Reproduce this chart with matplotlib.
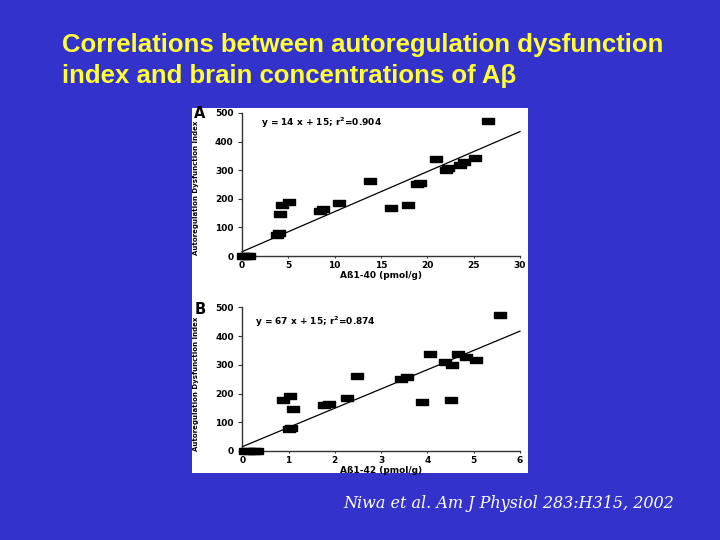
import matplotlib
matplotlib.use("Agg")
import matplotlib.pyplot as plt
import numpy as np

# ---- data ----
title_lines = ["Correlations between autoregulation dysfunction",
               "index and brain concentrations of A\u03b2"]
citation = "Niwa et al. Am J Physiol 283:H315, 2002"

a_x = [0.1, 0.4, 0.8, 3.8, 4.0, 4.05, 4.3, 5.1, 8.4, 8.7, 10.5, 13.8, 16.1, 17.9,
       18.9, 19.25, 20.9, 22.0, 22.2, 23.5, 24.0, 25.1, 26.5]
a_y = [0, 0, 0, 75, 80, 148, 177, 188, 159, 165, 185, 262, 169, 179,
       252, 256, 340, 300, 307, 319, 328, 342, 473]
a_fit = (14, 15)
a_eq = "y = 14 x + 15; r$^{\\mathbf{2}}$=0.904"
a_xticks = [0, 5, 10, 15, 20, 25, 30]

b_x = [0.05, 0.15, 0.25, 0.32, 0.87, 1.02, 1.09, 1.0, 1.06, 1.77, 1.87, 2.27, 2.47,
       3.42, 3.55, 3.88, 4.06, 4.38, 4.5, 4.52, 4.67, 4.83, 5.04, 5.57]
b_y = [0, 0, 0, 0, 179, 191, 145, 78, 80, 159, 165, 185, 262,
       249, 257, 169, 336, 308, 179, 299, 337, 328, 316, 472]
b_fit = (67, 15)
b_eq = "y = 67 x + 15; r$^{\\mathbf{2}}$=0.874"
b_xticks = [0, 1, 2, 3, 4, 5, 6]

yticks = [0, 100, 200, 300, 400, 500]

BG = "#3333cc"
YEL = "#ffff33"

plt.rcParams['mathtext.fontset'] = 'dejavusans'
fig = plt.figure(figsize=(7.2, 5.4), dpi=100)
fig.patch.set_facecolor(BG)

# white image panel
bg_ax = fig.add_axes([192/720, 1-473/540, 336/720, 365/540], zorder=-5)
bg_ax.set_facecolor("white")
bg_ax.set_xticks([]); bg_ax.set_yticks([])
for s in bg_ax.spines.values():
    s.set_visible(False)

fig.text(62/720, 1-52/540, title_lines[0], color=YEL, fontsize=18.5,
         fontweight="bold", family="Liberation Sans", va="baseline", ha="left")
fig.text(62/720, 1-83/540, title_lines[1], color=YEL, fontsize=18.5,
         fontweight="bold", family="Liberation Sans", va="baseline", ha="left")
fig.text(343/720, 1-503/540, citation, color="white", fontsize=11.5,
         style="italic", family="DejaVu Serif", va="center", ha="left")

rect_marker = [(-1, -0.6), (1, -0.6), (1, 0.6), (-1, 0.6), (-1, -0.6)]
tfont = dict(family="DejaVu Sans", weight="bold", size=6.5)

def panel(rect, xs, ys, fit, eq, eqpos, xticks, xlabel, letter, letter_pos, ylab_y):
    ax = fig.add_axes(rect, zorder=2)
    ax.set_facecolor("none")
    ax.set_xlim(xticks[0], xticks[-1])
    ax.set_ylim(0, 500)
    for s in ["top", "right"]:
        ax.spines[s].set_visible(False)
    for s in ["left", "bottom"]:
        ax.spines[s].set_color("#333333")
        ax.spines[s].set_linewidth(1)
    ax.set_xticks(xticks)
    ax.set_yticks(yticks)
    ax.tick_params(axis="y", length=3, width=0.8, pad=3, color="#333333")
    ax.tick_params(axis="x", length=1.5, width=0.8, pad=2, color="#333333")
    for lab in ax.get_xticklabels() + ax.get_yticklabels():
        lab.set_fontfamily(tfont["family"]); lab.set_fontweight("bold"); lab.set_fontsize(tfont["size"])
    xx = np.array([xticks[0], xticks[-1]])
    ax.plot(xx, fit[0]*xx + fit[1], color="black", lw=0.9, clip_on=False)
    ax.plot(xs, ys, linestyle="none", marker=rect_marker, markersize=8,
            color="black", clip_on=False, zorder=3)
    ax.text(eqpos[0], eqpos[1], eq, fontsize=6.5, fontweight="bold",
            family="DejaVu Sans", va="center", ha="left")
    ax.set_xlabel(xlabel, fontsize=6.5, fontweight="bold", family="DejaVu Sans", labelpad=1)
    ax.set_ylabel("Autoregulation Dysfunction Index", fontsize=5.0,
                  fontweight="bold", family="DejaVu Sans")
    ax.yaxis.set_label_coords(-0.155, ylab_y)
    fig.text(letter_pos[0]/720, 1-letter_pos[1]/540, letter, fontsize=10.5,
             fontweight="bold", family="DejaVu Sans", va="center", ha="left",
             zorder=5)
    return ax

panel([242/720, 1-256/540, 278/720, 143/540], a_x, a_y, a_fit, a_eq, (2.0, 467),
      a_xticks, "A\u00df1-40 (pmol/g)", "A", (194, 113.5), 0.48)
panel([242.3/720, 1-451/540, 277.7/720, 143.7/540], b_x, b_y, b_fit, b_eq, (0.28, 450),
      b_xticks, "A\u00df1-42 (pmol/g)", "B", (195, 309), 0.47)

fig.savefig("out.png", dpi=100, facecolor=BG)
